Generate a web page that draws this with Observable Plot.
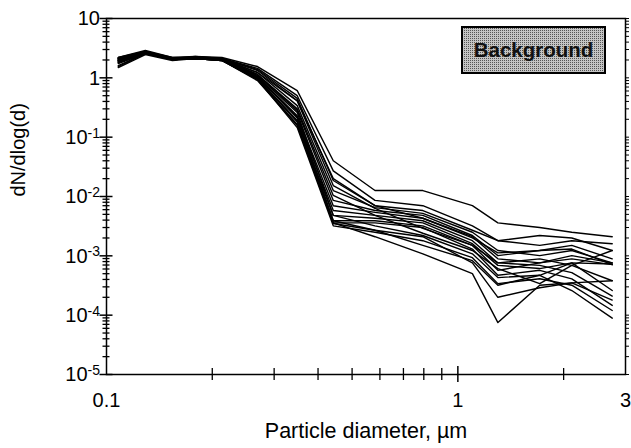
<!DOCTYPE html>
<html>
<head>
<meta charset="utf-8">
<script src="https://cdn.jsdelivr.net/npm/d3@7"></script>
<script src="https://cdn.jsdelivr.net/npm/@observablehq/plot@0.6"></script>
<style>
  html, body { margin: 0; padding: 0; background: #fff; }
</style>
</head>
<body>
<div id="chart"></div>
<script>
// Particle diameters (µm) of the size channels
const diameters = [0.108, 0.129, 0.154, 0.179, 0.213, 0.269, 0.349, 0.442, 0.581, 0.795, 1.10, 1.30, 1.71, 2.11, 2.75];

// dN/dlog(d) for each background sample
const s1  = [2.12, 2.78, 2.12, 2.29, 2.20, 1.55, 0.61, 0.040, 0.0126, 0.0126, 0.0070, 0.0036, 0.0030, 0.0025, 0.0021];
const s2  = [2.20, 2.89, 2.20, 2.20, 2.12, 1.44, 0.50, 0.027, 0.0086, 0.0070, 0.0032, 0.0018, 0.0022, 0.0020, 0.00123];
const s3  = [2.04, 2.67, 2.12, 2.20, 2.12, 1.33, 0.41, 0.020, 0.0070, 0.0058, 0.0027, 0.0018, 0.0015, 0.0018, 0.0016];
const s4  = [1.96, 2.67, 2.04, 2.12, 2.04, 1.23, 0.34, 0.0126, 0.0065, 0.0052, 0.0025, 0.00123, 0.00101, 0.00123, 0.00076];
const s5  = [2.12, 2.78, 2.12, 2.20, 2.04, 1.14, 0.28, 0.0086, 0.0058, 0.0048, 0.0022, 0.00101, 0.00123, 0.0013, 0.00071];
const s6  = [1.88, 2.57, 2.04, 2.12, 1.96, 1.05, 0.23, 0.0070, 0.0054, 0.0043, 0.0021, 0.00089, 0.00076, 0.00101, 0.00076];
const s7  = [1.81, 2.67, 2.12, 2.20, 2.04, 1.05, 0.21, 0.0058, 0.0048, 0.0039, 0.0018, 0.00076, 0.00089, 0.00069, 0.00038];
const s8  = [1.61, 2.57, 2.04, 2.12, 2.04, 0.97, 0.19, 0.0048, 0.0043, 0.0036, 0.0016, 0.00069, 0.00061, 0.00076, 0.00026];
const s9  = [1.49, 2.47, 1.96, 2.12, 1.96, 0.97, 0.18, 0.0039, 0.0039, 0.0032, 0.0015, 0.00057, 0.00076, 0.00089, 0.00071];
const s10 = [1.55, 2.57, 2.04, 2.12, 1.96, 0.94, 0.163, 0.0036, 0.0036, 0.0030, 0.0013, 0.00047, 0.00057, 0.00041, 0.000146];
const s11 = [1.96, 2.67, 2.12, 2.20, 2.12, 1.09, 0.26, 0.0048, 0.0032, 0.0022, 0.00108, 0.00043, 0.00047, 0.00076, 0.00073];
const s12 = [2.04, 2.67, 2.12, 2.20, 2.04, 1.01, 0.22, 0.0039, 0.0027, 0.0021, 0.00076, 0.00020, 0.00029, 0.00035, 0.00038];
const s13 = [1.88, 2.67, 2.04, 2.12, 2.04, 0.97, 0.19, 0.0036, 0.0021, 0.00108, 0.00050, 0.000075, 0.00032, 0.00035, 0.00018];
const s14 = [1.81, 2.57, 2.04, 2.12, 1.96, 0.90, 0.157, 0.0035, 0.0027, 0.0015, 0.00083, 0.00032, 0.00047, 0.00026, 0.000089];
const s15 = [1.96, 2.67, 2.12, 2.20, 2.04, 1.14, 0.30, 0.0104, 0.0048, 0.0024, 0.00123, 0.00061, 0.00034, 0.00069, 0.00123];
const s16 = [2.12, 2.67, 2.12, 2.20, 2.12, 1.23, 0.41, 0.0153, 0.0063, 0.0029, 0.0015, 0.00076, 0.00069, 0.00052, 0.00021];
const s17 = [2.20, 2.78, 2.20, 2.29, 2.12, 1.38, 0.45, 0.0186, 0.0070, 0.0043, 0.0020, 0.00112, 0.00123, 0.0015, 0.00089];
const s18 = [1.74, 2.57, 2.04, 2.12, 1.96, 0.94, 0.145, 0.0032, 0.0025, 0.0018, 0.00093, 0.00034, 0.00041, 0.00032, 0.00012];
const seriesList = [s1, s2, s3, s4, s5, s6, s7, s8, s9, s10, s11, s12, s13, s14, s15, s16, s17, s18];

// Axis ticks and labels
const xTickValues = [0.1, 1, 3];
const xMinorTicks = [0.2, 0.3, 0.4, 0.5, 0.6, 0.7, 0.8, 0.9, 2];
const yDecades   = [10, 1, 0.1, 0.01, 0.001, 0.0001, 0.00001];
const yTickBase  = ["10", "1", "10", "10", "10", "10", "10"];
const yTickExp   = ["", "", "-1", "-2", "-3", "-4", "-5"];
const xLabel = "Particle diameter, µm";
const yLabel = "dN/dlog(d)";
const legendLabel = "Background";

const yMinorTicks = yDecades.slice(1).flatMap(p => [2, 3, 4, 5, 6, 7, 8, 9].map(m => +(m * p).toPrecision(3)));

const rows = seriesList.flatMap((s, k) => s.map((v, j) => ({d: diameters[j], v, k})));

const FONT = "'Liberation Sans', Arial, Helvetica, sans-serif";
const blank = () => "";

const chart = Plot.plot({
  width: 631,
  height: 448,
  marginLeft: 106,
  marginRight: 6,
  marginTop: 18,
  marginBottom: 74,
  style: {fontFamily: FONT, fontSize: "20px", color: "#000", background: "#fff"},
  x: {type: "log", domain: [0.1, 3], label: null},
  y: {type: "log", domain: [1e-5, 10], label: null},
  marks: [
    Plot.line(rows, {x: "d", y: "v", z: "k", stroke: "#000", strokeWidth: 1.4}),
    Plot.frame({stroke: "#000", strokeWidth: 1.5}),
    // y axis: minor and major ticks crossing the axis line
    Plot.axisY(yMinorTicks, {anchor: "left", tickSize: 7, dx: 3.5, tickFormat: blank, strokeWidth: 1.3}),
    Plot.axisY(yDecades, {anchor: "left", tickSize: 13, dx: 6.5, tickFormat: blank, strokeWidth: 1.5}),
    Plot.axisY([...yMinorTicks, ...yDecades], {anchor: "right", tickSize: 3, tickFormat: blank, strokeWidth: 1}),
    // x axis: ticks crossing the axis line and labels
    Plot.axisX(xMinorTicks, {anchor: "bottom", tickSize: 12, dy: -6, tickFormat: blank, strokeWidth: 1.3}),
    Plot.axisX([1], {anchor: "bottom", tickSize: 16, dy: -8, tickFormat: blank, strokeWidth: 1.5}),
    Plot.axisX(xTickValues, {anchor: "bottom", tickSize: 0, tickPadding: 18, tickFormat: d => String(d), fontSize: 20, fill: "#000"}),
    // axis titles
    Plot.text([xLabel], {frameAnchor: "bottom", dy: 63, fontSize: 21.5, fill: "#000"}),
    Plot.text([yLabel], {frameAnchor: "left", dx: -88, rotate: -90, fontSize: 20, fill: "#000"})
  ]
});

document.getElementById("chart").appendChild(chart);

// y tick labels with superscript exponents, placed through Plot's y scale
const svg = d3.select(chart);
const yScale = chart.scale("y");
const xScale = chart.scale("x");
const labelsG = svg.append("g").attr("font-family", FONT).attr("fill", "#000");
yDecades.forEach((v, i) => {
  const t = labelsG.append("text")
    .attr("x", xScale.apply(0.1) - 6)
    .attr("y", yScale.apply(v))
    .attr("dy", "0.36em")
    .attr("text-anchor", "end")
    .attr("font-size", 20);
  t.append("tspan").text(yTickBase[i]);
  if (yTickExp[i]) t.append("tspan").attr("dy", "-0.45em").attr("font-size", 14).text(yTickExp[i]);
});

// legend box "Background"
const defs = svg.append("defs");
const pat = defs.append("pattern").attr("id", "halftone")
  .attr("width", 2).attr("height", 2).attr("patternUnits", "userSpaceOnUse");
pat.append("rect").attr("width", 2).attr("height", 2).attr("fill", "#c4c4c4");
pat.append("rect").attr("width", 1).attr("height", 1).attr("fill", "#555");
const frameRight = xScale.apply(3), frameTop = yScale.apply(10);
const lg = svg.append("g");
lg.append("rect").attr("x", frameRight - 163).attr("y", frameTop + 9).attr("width", 143).attr("height", 46)
  .attr("fill", "url(#halftone)").attr("stroke", "#000").attr("stroke-width", 2);
lg.append("text").attr("x", frameRight - 91.5).attr("y", frameTop + 32).attr("dy", "0.36em")
  .attr("text-anchor", "middle").attr("font-family", FONT).attr("font-size", 20.5)
  .attr("font-weight", "bold").attr("fill", "#111").text(legendLabel);
</script>
</body>
</html>
